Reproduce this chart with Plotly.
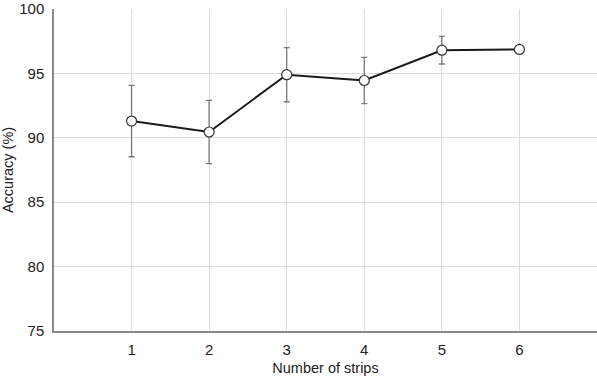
import plotly.graph_objects as go

strips = [1, 2, 3, 4, 5, 6]
accuracy = [91.3, 90.45, 94.9, 94.45, 96.8, 96.86]
err = [2.77, 2.45, 2.1, 1.8, 1.07, 0]

fig = go.Figure()
fig.add_trace(go.Scatter(
    x=strips, y=accuracy, mode="lines+markers",
    line=dict(color="#1a1a1a", width=2),
    marker=dict(symbol="circle", size=10, color="white", line=dict(color="#333333", width=1.2)),
    error_y=dict(type="data", array=err, visible=True, color="#7a7a7a", thickness=1.3, width=3),
    showlegend=False,
))

font = dict(family="Liberation Sans, Arial, sans-serif", size=15, color="#222222")
fig.update_layout(
    width=597, height=378,
    margin=dict(l=54, r=0, t=6, b=47),
    paper_bgcolor="white", plot_bgcolor="white",
    font=font,
    xaxis=dict(range=[0, 7], tickvals=strips, showgrid=True, gridcolor="#dcdcdc", gridwidth=1,
               showline=True, linecolor="#8a8a8a", linewidth=1.5, zeroline=False, ticks="",
               ticklabelstandoff=4,
               title=dict(text="Number of strips", font=dict(size=14.5), standoff=6)),
    yaxis=dict(range=[75, 100.0001], tickvals=[75, 80, 85, 90, 95, 100], showgrid=True, gridcolor="#dcdcdc",
               gridwidth=1, showline=True, linecolor="#8a8a8a", linewidth=1.5, zeroline=False, ticks="",
               ticklabelstandoff=5, ticklabeloverflow="allow",
               title=dict(text="Accuracy (%)", font=dict(size=14.5), standoff=3)),
)
fig.write_html("out.html")
